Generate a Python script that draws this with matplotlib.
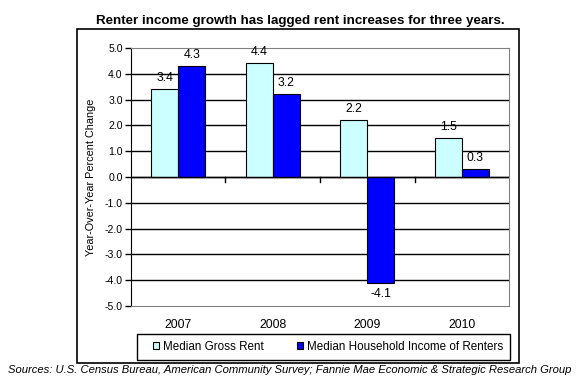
import matplotlib
matplotlib.use('Agg')
import matplotlib.pyplot as plt
from matplotlib.patches import Rectangle
import numpy as np

plt.rcParams['font.family'] = ['Liberation Sans', 'DejaVu Sans']

years = ['2007', '2008', '2009', '2010']
rent = [3.4, 4.4, 2.2, 1.5]
income = [4.3, 3.2, -4.1, 0.3]
rent_labels = ['3.4', '4.4', '2.2', '1.5']
income_labels = ['4.3', '3.2', '-4.1', '0.3']
yticks = np.arange(-5, 5.1, 1)

fig = plt.figure(figsize=(5.85, 3.89), dpi=100, facecolor='white')
ax = fig.add_axes([0.2239, 0.2134, 0.6462, 0.6632])

x = np.arange(len(years))
w = 0.285
b1 = ax.bar(x - w/2, rent, w, color='#CCFFFF', edgecolor='black', linewidth=0.8,
            label='Median Gross Rent', zorder=3)
b2 = ax.bar(x + w/2, income, w, color='#0000FF', edgecolor='black', linewidth=0.8,
            label='Median Household Income of Renters', zorder=3)

for xi, v, t in zip(x - w/2, rent, rent_labels):
    ax.text(xi, v + 0.2 if v >= 0 else v - 0.2, t, ha='center',
            va='bottom' if v >= 0 else 'top', fontsize=8.8)
for xi, v, t in zip(x + w/2, income, income_labels):
    ax.text(xi, v + 0.2 if v >= 0 else v - 0.2, t, ha='center',
            va='bottom' if v >= 0 else 'top', fontsize=8.8)

ax.set_xlim(-0.5, 3.5)
ax.set_ylim(-5, 5)
ax.set_yticks(yticks)
ax.set_yticklabels(['%.1f' % v for v in yticks], fontsize=7.6)
for v in yticks[1:-1]:
    ax.axhline(v, color='black', linewidth=1, zorder=1)
ax.axhline(0, color='black', linewidth=1, zorder=4)

# category boundary ticks on the zero line
for b in [0.5, 1.5, 2.5]:
    ax.plot([b, b], [0, -0.2], color='black', linewidth=1, clip_on=False, zorder=4)

ax.set_xticks([])
for sp in ['top', 'right', 'bottom']:
    ax.spines[sp].set_color('#808080')
ax.spines['left'].set_color('black')
ax.tick_params(axis='y', length=4, width=1, direction='out', pad=2)

for xi, yr in zip(x, years):
    ax.text(xi, -5.5, yr, ha='center', va='top', fontsize=8.8)

ax.set_ylabel('Year-Over-Year Percent Change', fontsize=7.8, labelpad=6)

fig.text(0.513, 0.945, 'Renter income growth has lagged rent increases for three years.',
         ha='center', va='center', fontsize=9.6, fontweight='bold')

fig.patches.append(Rectangle((0.1316, 0.0668), 0.7556, 0.8586, transform=fig.transFigure,
                             fill=False, edgecolor='black', linewidth=1.2))

# legend frame and entries
fig.patches.append(Rectangle((0.2342, 0.0746), 0.6376, 0.0668, transform=fig.transFigure,
                             fill=False, edgecolor='black', linewidth=1))
leg = fig.legend(handles=[b1, b2], loc='center', bbox_to_anchor=(0.5607, 0.108),
                 ncol=2, fontsize=8.4, frameon=False, borderpad=0,
                 handlelength=0.55, handleheight=0.55, handletextpad=0.35,
                 columnspacing=2.8, borderaxespad=0)

fig.text(0.014, 0.048, 'Sources: U.S. Census Bureau, American Community Survey; '
         'Fannie Mae Economic & Strategic Research Group',
         ha='left', va='center', fontsize=8.1, style='italic')

fig.savefig('out.png', dpi=100)
